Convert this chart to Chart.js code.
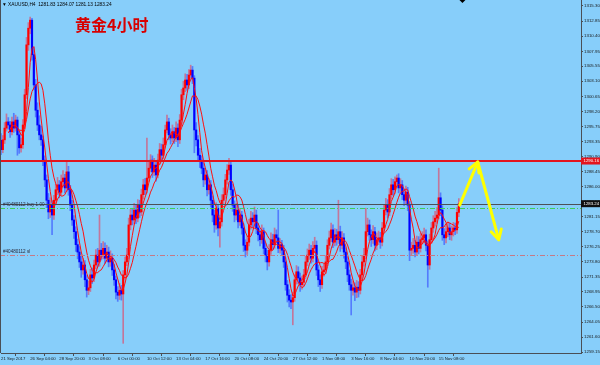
<!DOCTYPE html>
<html><head><meta charset="utf-8">
<script src="https://cdn.jsdelivr.net/npm/chart.js@4.4.0/dist/chart.umd.min.js"></script>
<style>html,body{margin:0;padding:0;background:#87cefa;overflow:hidden}canvas{display:block}</style>
</head><body>
<canvas id="c" width="600" height="365"></canvas>
<script>
// ---------- data ----------
const symbolText = "XAUUSD,H4";
const headerValues = ["1281.83", "1284.07", "1281.13", "1283.24"];
const titleText = "黄金4小时";
const firstOpen = 1293.5;
const closes = [
1292.0,1293.6,1295.5,1296.5,1296.0,1294.9,1296.5,1295.5,1296.8,1294.4,
1292.3,1292.8,1296.0,1300.9,1309.0,1311.7,1313.0,1307.4,1302.5,1298.4,
1296.0,1294.4,1293.6,1290.3,1287.1,1283.8,1281.9,1283.0,1281.4,1283.8,
1285.5,1286.3,1285.1,1286.8,1287.4,1285.8,1288.4,1285.5,1283.0,1280.6,
1278.7,1276.6,1275.4,1273.8,1272.5,1273.3,1270.9,1269.2,1269.6,1271.7,
1271.2,1273.3,1274.9,1273.8,1275.7,1274.9,1276.0,1274.4,1275.4,1273.8,
1274.4,1272.5,1270.9,1268.9,1268.4,1269.2,1268.6,1271.7,1273.8,1274.9,
1279.8,1281.4,1280.6,1282.2,1280.9,1283.0,1281.9,1284.7,1286.3,1285.5,
1287.4,1289.0,1290.3,1288.4,1289.5,1287.9,1290.3,1292.0,1291.1,1292.8,
1295.2,1296.5,1294.4,1293.9,1294.9,1293.9,1295.5,1293.6,1296.8,1300.9,
1302.0,1303.3,1302.5,1304.1,1304.9,1303.6,1295.2,1293.6,1291.1,1290.3,
1289.0,1287.1,1287.9,1285.5,1286.3,1283.8,1281.4,1279.8,1282.5,1279.3,
1280.3,1283.8,1284.7,1287.1,1288.7,1289.5,1285.5,1283.0,1281.4,1282.2,
1280.3,1281.4,1279.3,1276.5,1275.7,1277.0,1279.8,1280.9,1280.3,1281.4,
1279.3,1278.2,1277.4,1278.7,1276.0,1274.9,1273.8,1275.7,1277.4,1276.6,
1278.2,1277.7,1276.0,1276.6,1275.7,1273.8,1270.1,1268.4,1267.6,1267.3,
1268.0,1270.9,1272.2,1271.2,1270.1,1270.5,1271.7,1273.8,1274.9,1275.7,
1274.4,1276.0,1276.5,1272.5,1270.9,1270.1,1272.2,1272.5,1273.8,1276.5,
1277.7,1279.0,1277.0,1278.2,1277.4,1278.7,1276.5,1277.7,1275.4,1273.8,
1271.7,1270.1,1269.2,1269.6,1268.9,1269.7,1269.2,1271.7,1273.8,1274.9,
1278.7,1279.8,1278.2,1277.4,1278.7,1276.5,1277.4,1277.7,1277.0,1279.3,
1282.2,1283.0,1281.9,1284.7,1286.3,1285.5,1286.8,1287.4,1285.8,1286.3,
1284.7,1283.8,1285.1,1283.0,1275.7,1276.0,1276.5,1275.4,1277.0,1276.0,
1277.4,1277.7,1278.2,1276.5,1273.3,1277.4,1279.3,1280.3,1280.9,1281.4,
1284.2,1282.2,1278.2,1277.7,1278.7,1279.3,1278.2,1278.7,1279.3,1279.0,
1281.83,1283.24];
const highs = [
1294.6,1294.3,1296.4,1297.8,1297.2,1296.6,1297.3,1297.9,1297.6,1297.3,
1295.0,1293.9,1296.9,1301.8,1310.2,1312.6,1313.5,1313.3,1308.6,1303.4,
1299.6,1297.5,1295.8,1294.2,1291.0,1287.9,1284.9,1284.2,1283.7,1284.6,
1286.4,1287.5,1287.0,1287.9,1288.6,1288.0,1290.0,1289.3,1286.2,1283.8,
1281.3,1279.5,1277.5,1276.3,1274.7,1274.4,1274.0,1271.6,1270.7,1272.6,
1272.8,1274.1,1275.8,1276.0,1281.4,1276.8,1277.1,1276.9,1276.5,1276.2,
1275.6,1275.1,1273.4,1271.5,1269.8,1270.3,1270.0,1272.4,1274.6,1276.0,
1280.9,1282.3,1282.5,1283.3,1283.0,1283.9,1283.8,1285.6,1287.2,1287.3,
1293.9,1290.1,1291.2,1291.0,1290.6,1290.2,1291.3,1293.0,1292.9,1293.9,
1296.0,1297.6,1297.1,1295.4,1296.0,1295.6,1296.5,1296.2,1297.7,1301.8,
1303.1,1304.3,1304.2,1305.0,1305.7,1305.5,1304.0,1296.4,1294.3,1292.2,
1291.0,1289.8,1289.0,1288.6,1287.3,1287.0,1284.5,1282.2,1283.4,1283.1,
1281.4,1284.7,1285.8,1288.0,1289.6,1290.6,1290.2,1286.4,1283.7,1283.3,
1283.0,1282.5,1282.0,1280.0,1277.4,1278.0,1280.7,1282.0,1281.8,1282.7,
1282.2,1280.1,1279.0,1279.8,1279.3,1276.8,1275.7,1276.6,1278.5,1278.3,
1279.3,1279.0,1282.2,1277.6,1277.3,1276.5,1274.5,1270.8,1269.3,1268.5,
1268.9,1271.7,1273.2,1273.0,1272.0,1271.5,1272.6,1274.7,1275.9,1276.7,
1276.5,1277.1,1277.8,1277.2,1273.3,1271.7,1273.1,1273.5,1274.8,1277.4,
1278.8,1280.1,1279.8,1279.2,1279.1,1283.8,1279.6,1278.7,1278.4,1276.1,
1274.6,1272.5,1271.0,1270.7,1270.4,1270.8,1270.6,1272.6,1274.8,1276.0,
1282.5,1280.9,1280.6,1279.0,1279.7,1279.4,1278.5,1278.8,1278.6,1280.2,
1283.1,1284.1,1283.9,1285.7,1287.3,1287.2,1287.6,1287.9,1288.1,1287.3,
1287.0,1285.6,1286.1,1285.9,1283.6,1277.0,1277.6,1277.3,1278.0,1277.9,
1278.4,1278.7,1279.3,1279.0,1277.2,1278.3,1280.2,1281.3,1282.0,1282.6,
1289.0,1285.0,1282.9,1279.2,1279.6,1280.3,1280.1,1279.6,1280.2,1280.1,
1282.6,1284.07];
const lows = [
1291.2,1291.5,1293.0,1295.0,1295.3,1294.0,1294.4,1294.8,1295.0,1291.1,
1291.4,1291.6,1292.2,1295.4,1300.3,1308.1,1310.8,1306.5,1301.7,1297.3,
1295.1,1293.6,1292.7,1289.4,1286.0,1282.6,1280.8,1281.0,1278.2,1280.7,
1283.1,1284.7,1284.2,1284.6,1286.0,1285.0,1285.2,1284.6,1282.1,1279.7,
1277.6,1275.5,1274.3,1272.9,1271.3,1271.8,1269.8,1268.1,1268.5,1269.0,
1270.3,1270.6,1272.7,1273.0,1273.1,1274.1,1274.3,1273.5,1273.8,1273.0,
1273.1,1271.6,1270.0,1267.8,1267.4,1267.7,1267.6,1260.6,1271.0,1273.2,
1274.3,1279.0,1279.8,1280.0,1280.0,1280.3,1281.0,1281.3,1284.0,1284.7,
1285.0,1286.8,1288.4,1287.5,1287.8,1286.9,1287.4,1289.6,1290.2,1290.5,
1292.3,1294.7,1293.6,1292.9,1293.3,1293.0,1293.3,1292.5,1293.0,1296.2,
1300.1,1301.4,1301.6,1301.9,1303.4,1302.7,1291.5,1292.6,1290.2,1289.1,
1288.1,1286.0,1286.4,1284.5,1284.8,1282.7,1280.3,1278.6,1279.1,1278.0,
1276.2,1279.6,1283.1,1284.1,1286.4,1288.0,1284.6,1282.0,1280.3,1280.6,
1279.3,1279.7,1278.3,1275.5,1274.6,1275.0,1276.4,1279.1,1279.4,1279.6,
1278.4,1277.2,1276.4,1276.8,1275.1,1273.8,1272.5,1273.1,1275.0,1275.8,
1276.0,1276.9,1275.3,1275.2,1274.8,1272.9,1269.2,1267.3,1266.5,1266.2,
1263.6,1267.4,1270.2,1270.3,1269.0,1269.4,1269.9,1271.1,1273.2,1274.2,
1273.6,1273.8,1275.3,1271.6,1269.8,1269.0,1269.5,1271.5,1271.9,1273.2,
1275.9,1277.1,1276.1,1276.4,1276.5,1276.8,1275.5,1275.9,1274.4,1272.7,
1270.6,1269.2,1265.2,1268.4,1267.5,1268.0,1268.1,1268.6,1271.0,1273.1,
1274.3,1278.0,1277.3,1276.3,1276.8,1275.6,1275.8,1276.6,1276.0,1276.4,
1278.7,1281.4,1281.0,1281.3,1284.0,1284.6,1284.9,1286.0,1285.0,1285.1,
1283.9,1282.9,1283.2,1282.1,1274.0,1274.9,1275.2,1274.6,1274.8,1275.1,
1275.4,1276.7,1276.9,1275.6,1269.7,1272.6,1276.8,1278.6,1279.6,1280.1,
1280.8,1281.3,1277.3,1276.6,1276.9,1277.9,1277.4,1277.3,1278.0,1278.2,
1278.4,1281.13];
const totalSlots = 319;
const labelEvery = 16;
const dateLabels = ["21 Sep 2017","26 Sep 04:00","28 Sep 20:00","3 Oct 08:00","6 Oct 00:00",
  "10 Oct 12:00","13 Oct 04:00","17 Oct 16:00","20 Oct 08:00","24 Oct 20:00","27 Oct 12:00",
  "1 Nov 08:00","3 Nov 16:00","8 Nov 04:00","10 Nov 20:00","15 Nov 08:00"];
const yTickValues = [1315.30,1312.85,1310.40,1307.95,1305.55,1303.10,1300.65,1298.20,1295.75,
  1293.35,1290.90,1288.45,1286.00,1283.55,1281.15,1278.70,1276.25,1273.80,1271.35,1268.95,
  1266.50,1264.05,1261.60,1259.15];
const yMin = 1259.03, yMax = 1316.27;
const resistancePrice = 1290.16;
const currentPrice = 1283.24;
const buyPrice = 1282.54;
const stopPrice = 1274.92;
const buyLabel = "#40480112 buy 1.00";
const stopLabel = "#40480112 sl";
const maPeriods = [5, 10];
// hand-drawn forecast arrow: [bar index, price]
const arrowPath = [[251.5, 1283.0], [261.4, 1290.0], [272.9, 1277.4]];

// ---------- derived ----------
const opens = closes.map((c, i) => i === 0 ? firstOpen : closes[i - 1]);
const labels = Array.from({length: totalSlots}, (_, i) =>
  (i % labelEvery === 0 && dateLabels[i / labelEvery]) ? dateLabels[i / labelEvery] : '');
const bodies = closes.map((c, i) => [opens[i], c]);
const wicks = closes.map((c, i) => [lows[i], highs[i]]);
const isUp = closes.map((c, i) => c >= opens[i]);
const bodyColors = isUp.map(u => u ? '#ff0000' : '#0000ff');
const wickColors = isUp.map(u => u ? 'rgba(235,60,90,0.6)' : 'rgba(50,70,255,0.6)');
function sma(p) {
  return closes.map((c, i) => {
    if (i < p - 1) return null;
    let s = 0; for (let k = i - p + 1; k <= i; k++) s += closes[k];
    return s / p;
  });
}
const maSets = maPeriods.map(p => ({
  type: 'line', data: sma(p), borderColor: '#ff1010', borderWidth: 1,
  pointRadius: 0, tension: 0, order: 0, spanGaps: false
}));

const FONT = '"Liberation Sans", Arial, sans-serif';
const AXIS = '#4a4f55';
const FS = 4.4;

const overlay = {
  id: 'overlay',
  beforeDraw(chart) {
    const c = chart.ctx;
    c.save(); c.fillStyle = '#87cefa'; c.fillRect(0, 0, chart.width, chart.height); c.restore();
  },
  afterDatasetsDraw(chart) {
    const c = chart.ctx, a = chart.chartArea, y = chart.scales.y, x = chart.scales.x;
    c.save();
    c.beginPath(); c.rect(a.left - 1, a.top, a.right - a.left + 1, a.bottom - a.top); c.clip();
    function hline(p, color, w, dash) {
      const py = Math.round(y.getPixelForValue(p)) + (w % 2 ? 0.5 : 0);
      c.strokeStyle = color; c.lineWidth = w; c.setLineDash(dash);
      c.beginPath(); c.moveTo(0, py); c.lineTo(a.right, py); c.stroke();
      return py;
    }
    hline(buyPrice, '#3cd05a', 1, [5, 2, 1, 2]);
    hline(stopPrice, '#c47a86', 1, [5, 2, 1, 2]);
    hline(currentPrice, '#4c5058', 1, []);
    hline(resistancePrice, '#e3141e', 2, []);
    c.setLineDash([]);
    // order labels
    c.fillStyle = '#2a2a3a'; c.font = '4.6px ' + FONT; c.textBaseline = 'bottom';
    c.fillText(buyLabel, 3, y.getPixelForValue(buyPrice) - 0.5);
    c.fillText(stopLabel, 3, y.getPixelForValue(stopPrice) - 0.5);
    // forecast arrow
    const pts = arrowPath.map(p => [x.getPixelForValue(p[0]), y.getPixelForValue(p[1])]);
    c.strokeStyle = '#ffff00'; c.lineWidth = 3; c.lineCap = 'round'; c.lineJoin = 'round';
    c.beginPath(); c.moveTo(pts[0][0], pts[0][1]);
    for (let i = 1; i < pts.length; i++) c.lineTo(pts[i][0], pts[i][1]);
    c.stroke();
    function head(from, to) {
      const ang = Math.atan2(to[1] - from[1], to[0] - from[0]);
      const L = 11, s = 0.5;
      c.beginPath();
      c.moveTo(to[0] - L * Math.cos(ang - s), to[1] - L * Math.sin(ang - s));
      c.lineTo(to[0], to[1]);
      c.lineTo(to[0] - L * Math.cos(ang + s), to[1] - L * Math.sin(ang + s));
      c.stroke();
    }
    head(pts[0], pts[1]); head(pts[1], pts[2]);
    c.restore();
  },
  afterDraw(chart) {
    const c = chart.ctx, a = chart.chartArea, y = chart.scales.y;
    c.save();
    function box(p, bg) {
      const py = y.getPixelForValue(p);
      c.fillStyle = bg; c.fillRect(a.right, py - 3.5, chart.width - a.right, 7);
      c.fillStyle = '#ffffff'; c.font = '4.3px ' + FONT; c.textBaseline = 'middle';
      c.fillText(p.toFixed(2), a.right + 2.5, py);
    }
    box(resistancePrice, '#e3141e');
    box(currentPrice, '#101010');
    // header
    c.fillStyle = '#000'; c.font = '4.8px ' + FONT; c.textBaseline = 'middle';
    c.fillText('▼ ' + symbolText + '  ' + headerValues.join(' '), 2, 4.5);
    // title
    c.fillStyle = '#d80000'; c.font = 'bold 16px "Noto Sans CJK SC", sans-serif';
    c.textBaseline = 'middle';
    c.fillText(titleText, 75, 25);
    // left border
    c.strokeStyle = AXIS; c.lineWidth = 1;
    c.beginPath(); c.moveTo(0.5, 0); c.lineTo(0.5, a.bottom); c.stroke();
    // chart shift marker
    const sx = chart.scales.x.getPixelForValue(253);
    c.fillStyle = '#000';
    c.beginPath(); c.moveTo(sx - 3, 0); c.lineTo(sx + 3, 0); c.lineTo(sx, 3); c.closePath(); c.fill();
    c.restore();
  }
};

new Chart(document.getElementById('c'), {
  type: 'bar',
  data: {
    labels,
    datasets: [
      ...maSets,
      { data: bodies, backgroundColor: bodyColors, barThickness: 1.5, grouped: false, order: 1, minBarLength: 1 },
      { data: wicks, backgroundColor: wickColors, barThickness: 1, grouped: false, order: 2 }
    ]
  },
  options: {
    responsive: false, animation: false, devicePixelRatio: 1,
    layout: { padding: { left: 1, top: 0, right: 0, bottom: 0 } },
    plugins: { legend: { display: false }, tooltip: { enabled: false } },
    scales: {
      x: {
        offset: false,
        grid: { display: true, drawOnChartArea: false, drawTicks: true, tickLength: 3, color: AXIS },
        border: { display: true, color: AXIS, width: 1 },
        ticks: { autoSkip: false, maxRotation: 0, minRotation: 0, align: 'start', padding: 0,
                 color: '#1a1a1a', font: { size: 4.3, family: FONT } },
        afterBuildTicks(s) { s.ticks = dateLabels.map((_, i) => ({ value: i * labelEvery })); },
        afterFit(s) { s.height = 12; s.paddingLeft = 0; s.paddingRight = 0; }
      },
      y: {
        position: 'right', min: yMin, max: yMax,
        grid: { display: true, drawOnChartArea: false, drawTicks: true, tickLength: 2, color: AXIS },
        border: { display: true, color: AXIS, width: 1 },
        ticks: { autoSkip: false, padding: 1, color: '#1a1a1a', font: { size: FS, family: FONT },
                 callback: v => Number(v).toFixed(2) },
        afterBuildTicks(s) { s.ticks = yTickValues.map(v => ({ value: v })); },
        afterFit(s) { s.width = 19; s.paddingTop = 0; s.paddingBottom = 0; }
      }
    }
  },
  plugins: [overlay]
});
</script>
</body></html>
